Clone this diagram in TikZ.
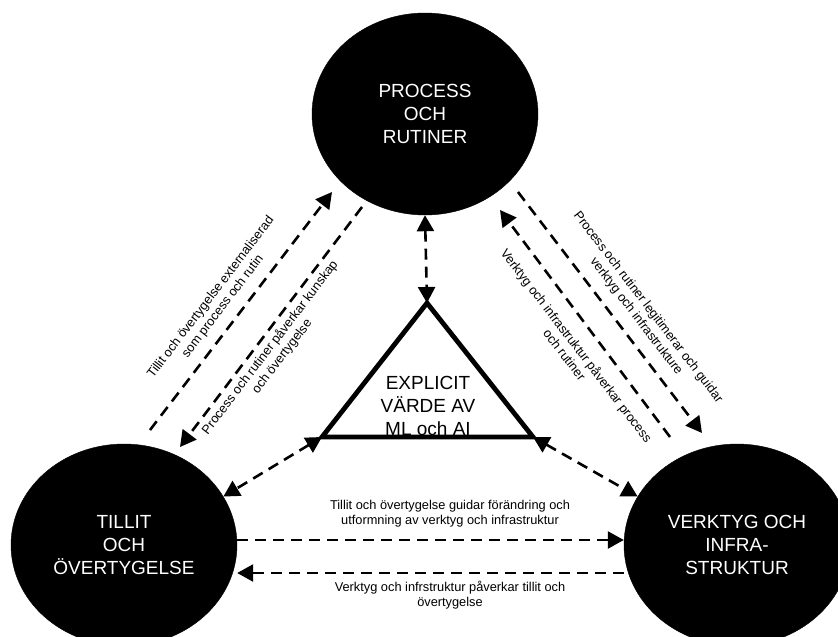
\documentclass[tikz,border=0pt]{standalone}
\usepackage{fontspec}
\setmainfont{Liberation Sans}
\usetikzlibrary{shapes.geometric,arrows.meta}

\begin{document}
\begin{tikzpicture}[x=1pt,y=-1pt,
		bignode/.style={ellipse, fill=black, draw=black, minimum width=226pt, minimum height=202pt, inner sep=0pt, text=white, align=center, font=\fontsize{19}{23}\selectfont},
		smalltext/.style={align=center, inner sep=0pt, font=\fontsize{12.8}{15}\selectfont},
		dasharrow/.style={line width=2.6pt, dash pattern=on 11pt off 7pt, -{Triangle[length=16pt,width=17pt]}},
		twoway/.style={dasharrow, {Triangle[length=16pt,width=17pt]}-{Triangle[length=16pt,width=17pt]}}
	]
		\useasboundingbox (0,0) rectangle (838,637);

		\node[bignode] (proc) at (425,114) {PROCESS\\OCH\\RUTINER};
		\node[bignode] (trust) at (124,545) {TILLIT\\OCH\\ÖVERTYGELSE};
		\node[bignode] (tools) at (737,545) {VERKTYG OCH\\INFRA-\\STRUKTUR};

		\coordinate (tapex) at (427,303);
		\coordinate (tleft) at (322,437);
		\coordinate (tright) at (533,437);
		\node[align=center, inner sep=0pt, font=\fontsize{19}{23}\selectfont] (value) at (428,406) {EXPLICIT\\VÄRDE AV\\ML och AI};
		\draw[line width=4.8pt, line join=miter] (tapex) -- (tleft) -- (tright) -- cycle;

		\draw[twoway] (proc.south) -- (tapex);
		\draw[twoway] (tleft) -- (trust.26);
		\draw[twoway] (tright) -- (tools.154);

		\draw[dasharrow] ([yshift=5pt]trust.east) -- ([yshift=5pt]tools.west);
		\draw[dasharrow] ([yshift=-28pt]tools.west) -- ([yshift=-28pt]trust.east);

		\coordinate (aout) at (150,430);
		\coordinate (ain) at (332,192);
		\coordinate (bout) at (362,207);
		\coordinate (bin) at (180,447);
		\coordinate (cout) at (518,192);
		\coordinate (cin) at (702,433);
		\coordinate (dout) at (670,437);
		\coordinate (din) at (500,210);
		\draw[dasharrow] (aout) -- (ain);
		\draw[dasharrow] (bout) -- (bin);
		\draw[dasharrow] (cout) -- (cin);
		\draw[dasharrow] (dout) -- (din);

		\node[smalltext, rotate=52.6] (lbla) at (217,302) {Tillit och övertygelse externaliserad\\som process och rutin};
		\node[smalltext, rotate=52.6] (lblb) at (276,352) {Process och rutiner påverkar kunskap\\och övertygelse};
		\node[smalltext, rotate=-52.6] (lblc) at (642,312) {Process och rutiner legitimerar och guidar\\verktyg och infrastrukture};
		\node[smalltext, rotate=-52.6] (lbld) at (571,350) {Verktyg och infrastruktur påverkar process\\och rutiner};
		\node[smalltext] (lble) at (450,514) {Tillit och övertygelse guidar förändring och\\utformning av verktyg och infrastruktur};
		\node[smalltext] (lblf) at (450,595) {Verktyg och infrstruktur påverkar tillit och\\övertygelse};
	\end{tikzpicture}
\end{document}
